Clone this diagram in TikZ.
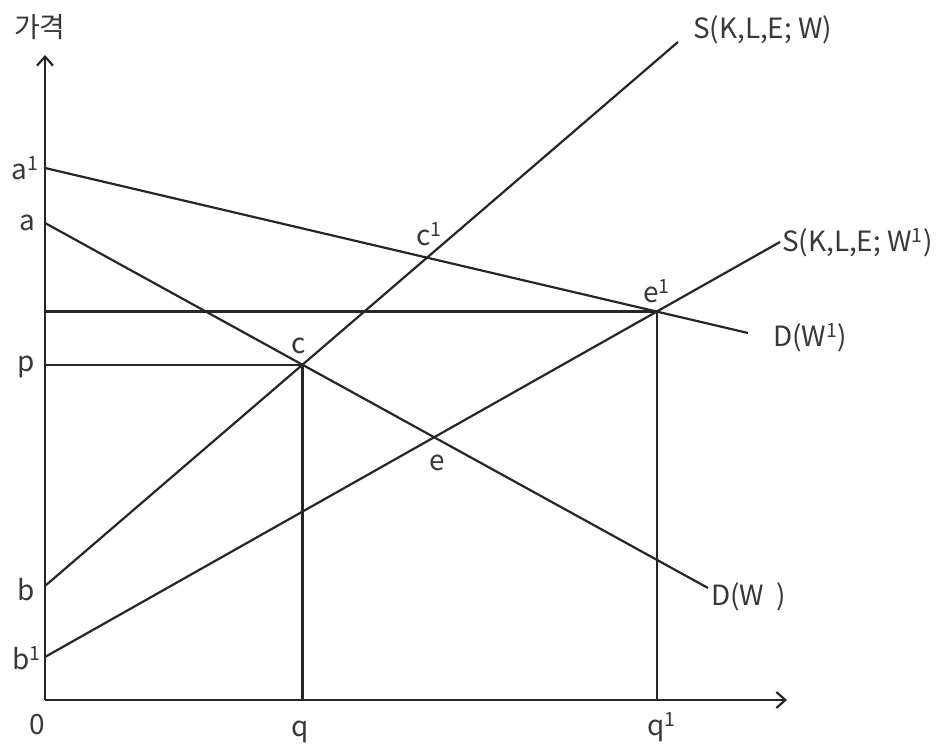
\documentclass[tikz,border=0pt]{standalone}
\usepackage{fontspec}
\setmainfont{Noto Sans CJK KR}
\usetikzlibrary{calc,arrows.meta}
\tikzset{
  curve/.style={line width=2.2bp, draw=black!85},
  axis/.style={curve, -{Straight Barb[length=9bp,width=16bp,line width=2.2bp]}},
  lbl/.style={font=\fontsize{28}{30}\selectfont, text=black!78, inner sep=2bp}
}
\begin{document}
\begin{tikzpicture}[x=1bp,y=1bp]
            \useasboundingbox (-45,-46) rectangle (905,700);
            % axes
            \coordinate (O) at (0,0);
            \coordinate (ytop) at (0,645);
            \coordinate (xend) at (742,0);
            \draw[axis] (O) -- (ytop);
            \draw[axis] (O) -- (xend);
            \node[lbl] (price) at (-5,673) {가격};
            \node[lbl] (zero) at (-8,-25) {0};

            % intercepts
            \coordinate (a1) at (0,532);
            \coordinate (a) at (0,477);
            \coordinate (b) at (0,114);
            \coordinate (b1) at (0,43);

            % line ends
            \coordinate (sWend) at (633,658);
            \coordinate (sW1end) at (735,458);
            \coordinate (dW1end) at (703,367);
            \coordinate (dWend) at (663,112);

            \draw[curve] (b) -- (sWend);
            \draw[curve] (b1) -- (sW1end);
            \draw[curve] (a1) -- (dW1end);
            \draw[curve] (a) -- (dWend);

            % equilibria
            \coordinate (c) at (intersection of a--dWend and b--sWend);
            \coordinate (c1) at (intersection of a1--dW1end and b--sWend);
            \coordinate (e) at (intersection of a--dWend and b1--sW1end);
            \coordinate (e1) at (intersection of a1--dW1end and b1--sW1end);

            \coordinate (p) at (O |- c);
            \coordinate (q) at (O -| c);
            \coordinate (pe1) at (O |- e1);
            \coordinate (q1) at (O -| e1);
            \draw[curve] (p) -- (c) -- (q);
            \draw[curve] (pe1) -- (e1) -- (q1);

            % labels
            \node[lbl, anchor=east] (la1) at (-4,532) {a\textsuperscript{1}};
            \node[lbl, anchor=east] (la) at (-8,477) {a};
            \node[lbl, anchor=east] (lp) at (-8,333) {p};
            \node[lbl, anchor=east] (lb) at (-8,110) {b};
            \node[lbl, anchor=east] (lb1) at (-2,42) {b\textsuperscript{1}};
            \node[lbl] (lq) at (255,-32) {q};
            \node[lbl] (lq1) at (617,-27) {q\textsuperscript{1}};

            \node[lbl] (lc) at ($(c)+(-4,19)$) {c};
            \node[lbl] (lc1) at ($(c1)+(2,23)$) {c\textsuperscript{1}};
            \node[lbl] (le) at ($(e)+(3,-26)$) {e};
            \node[lbl] (le1) at ($(e1)+(0,20)$) {e\textsuperscript{1}};

            \node[lbl, anchor=west] (sW) at (646,670) {S(K,L,E;\ W)};
            \node[lbl, anchor=west] (sW1) at (735,457) {S(K,L,E;\ W\textsuperscript{1})};
            \node[lbl, anchor=west] (dW1) at (726,362) {D(W\textsuperscript{1})};
            \node[lbl, anchor=west] (dW) at (664,103) {D(W\ \ )};
        \end{tikzpicture}
\end{document}
